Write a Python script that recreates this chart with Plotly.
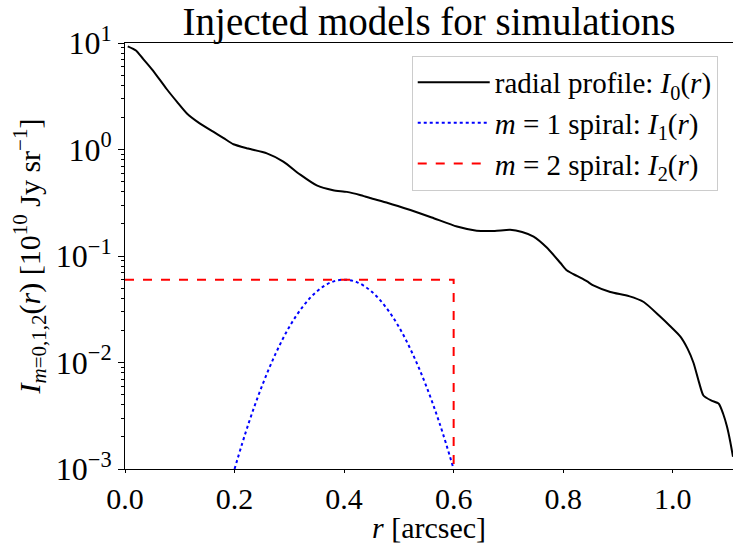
import plotly.graph_objects as go

# radial profile I0(r)
r0 = [0.005, 0.02, 0.033, 0.05, 0.076, 0.095, 0.113, 0.135, 0.161, 0.18, 0.198, 0.225,
      0.259, 0.289, 0.32, 0.35, 0.38, 0.405, 0.429, 0.4475, 0.48, 0.521, 0.56, 0.606,
      0.642, 0.675, 0.703, 0.725, 0.746, 0.77, 0.795, 0.807, 0.825, 0.843, 0.855, 0.886,
      0.92, 0.947, 0.977, 0.995, 1.014, 1.027, 1.038, 1.048, 1.056, 1.07, 1.084, 1.092,
      1.099, 1.105, 1.11]
I0 = [9.3, 8.5, 7.1, 5.6, 3.7, 2.8, 2.18, 1.78, 1.47, 1.28, 1.12, 1.02,
      0.92, 0.77, 0.58, 0.46, 0.415, 0.40, 0.374, 0.35, 0.315, 0.27, 0.23, 0.189,
      0.173, 0.172, 0.176, 0.168, 0.152, 0.12, 0.086, 0.073, 0.065, 0.058, 0.053, 0.046,
      0.042, 0.037, 0.027, 0.022, 0.0175, 0.0135, 0.0099, 0.0065, 0.0049, 0.0044, 0.0041, 0.0033,
      0.0025, 0.0018, 0.0013]

# m=1 spiral I1(r)
r1 = [0.2, 0.225, 0.25, 0.275, 0.3, 0.325, 0.35, 0.375, 0.4, 0.425, 0.45, 0.475, 0.5,
      0.525, 0.55, 0.575, 0.6]
I1 = [0.001, 0.00262, 0.0060, 0.0121, 0.0216, 0.0337, 0.0464, 0.0563, 0.06, 0.0563,
      0.0464, 0.0337, 0.0216, 0.0121, 0.0060, 0.00262, 0.001]

# m=2 spiral I2(r)
r2 = [0.0, 0.6, 0.6]
I2 = [0.06, 0.06, 0.001]

ytick_vals = [1e-3, 1e-2, 1e-1, 1e0, 1e1]
ytick_text = ["10<sup>\u22123</sup>", "10<sup>\u22122</sup>", "10<sup>\u22121</sup>",
              "10<sup>0</sup>", "10<sup>1</sup>"]
xtick_vals = [0.0, 0.2, 0.4, 0.6, 0.8, 1.0]

minor_vals = [m * 10 ** e for e in range(-3, 1) for m in range(2, 10)]

FONT = "Liberation Serif"

fig = go.Figure()
fig.add_trace(go.Scatter(x=r0, y=I0, mode="lines", legendgroup="a",
                         line=dict(color="black", width=2, shape="spline", smoothing=0.6),
                         name="radial profile: <i>I</i><sub>0</sub>(<i>r</i>)"))
fig.add_trace(go.Scatter(x=r1, y=I1, mode="lines", legendgroup="b",
                         line=dict(color="blue", width=2, dash="dot", shape="spline"),
                         name="<i>m</i> = 1 spiral: <i>I</i><sub>1</sub>(<i>r</i>)"))
fig.add_trace(go.Scatter(x=r2, y=I2, mode="lines", legendgroup="c",
                         line=dict(color="red", width=2, dash="dash"),
                         name="<i>m</i> = 2 spiral: <i>I</i><sub>2</sub>(<i>r</i>)"))

fig.update_layout(
    width=733, height=543,
    margin=dict(l=125, r=0, t=43, b=74),
    paper_bgcolor="white", plot_bgcolor="white",
    font=dict(family=FONT, color="black", size=30),
    title=dict(text="Injected models for simulations", x=0.5, xref="paper",
               y=1, yref="paper", yanchor="bottom", pad=dict(b=8),
               font=dict(family=FONT, size=39, color="black")),
    legend=dict(x=0.4716, y=0.97, xanchor="left", yanchor="top",
                bgcolor="rgba(255,255,255,0.85)", bordercolor="#cccccc", borderwidth=1,
                font=dict(family=FONT, size=29), tracegroupgap=0, itemwidth=72),
    showlegend=True,
)
fig.add_annotation(text="<i>r</i> [arcsec]", x=0.5, y=0, xref="paper", yref="paper",
                   xanchor="center", yanchor="top", yshift=-40, showarrow=False,
                   font=dict(family=FONT, size=30, color="black"))
fig.update_xaxes(
    range=[0, 1.11], tickvals=xtick_vals, tickformat=".1f",
    showline=True, linecolor="black", linewidth=1, mirror=True,
    ticks="outside", ticklen=3, tickcolor="black", showgrid=False, zeroline=False,
    tickfont=dict(family=FONT, size=30),
)
fig.update_yaxes(
    type="log", range=[-3, 1], tickvals=ytick_vals, ticktext=ytick_text,
    showline=True, linecolor="black", linewidth=1,
    ticks="outside", ticklen=6, tickcolor="black", showgrid=False, zeroline=False,
    tickfont=dict(family=FONT, size=32),
    minor=dict(tickvals=minor_vals, ticks="outside", ticklen=3, tickcolor="black", showgrid=False),
    title=dict(text="<i>I</i><sub><i>m</i>=0,1,2</sub>(<i>r</i>) [10<sup>10</sup> Jy sr<sup>\u22121</sup>]",
               font=dict(family=FONT, size=30), standoff=6),
)

fig.write_html("out.html")
